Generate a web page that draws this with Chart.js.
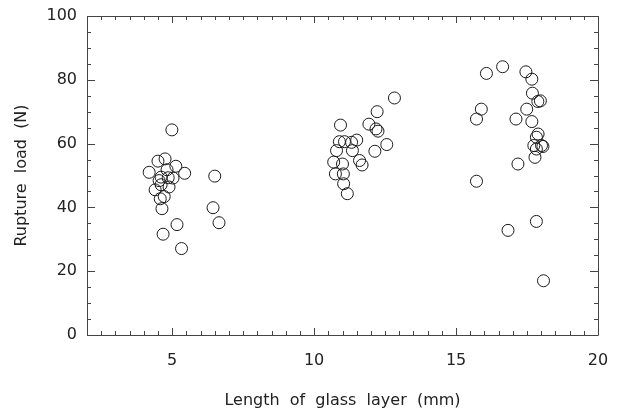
<!DOCTYPE html>
<html>
<head>
<meta charset="utf-8">
<script src="https://cdn.jsdelivr.net/npm/chart.js@4.4.1/dist/chart.umd.min.js"></script>
<style>
html, body { margin: 0; padding: 0; background: #fff; }
#wrap { width: 617px; height: 413px; }
</style>
</head>
<body>
<div id="wrap"><canvas id="chart" width="617" height="413"></canvas></div>
<script>
// glass layer ~5 mm
const shortX = [4.19, 4.50, 4.75, 4.99, 4.40, 4.54, 4.61, 4.82, 4.86, 5.03, 5.13, 5.44, 4.58, 4.72, 4.89, 4.64, 4.68, 5.17, 5.33, 6.50, 6.44, 6.65, 4.61];
const shortY = [51.0, 54.5, 55.2, 64.3, 45.5, 48.4, 49.5, 51.8, 49.3, 49.2, 52.9, 50.7, 42.7, 43.4, 46.4, 39.6, 31.6, 34.6, 27.1, 49.8, 39.9, 35.2, 47.1];

// glass layer ~11 mm
const midX = [10.93, 10.79, 10.69, 10.75, 10.89, 11.07, 11.00, 11.03, 11.04, 11.17, 11.32, 11.35, 11.50, 11.60, 11.69, 11.93, 12.18, 12.25, 12.22, 12.14, 12.56, 12.83];
const midY = [65.8, 57.8, 54.2, 50.5, 60.6, 60.6, 53.6, 50.5, 47.4, 44.3, 60.4, 57.8, 61.1, 54.7, 53.3, 66.1, 64.6, 63.9, 70.0, 57.6, 59.7, 74.3];

// glass layer ~16-18 mm
const longX = [15.72, 15.89, 15.72, 16.07, 16.64, 16.83, 17.11, 17.18, 17.46, 17.49, 17.67, 17.69, 17.67, 17.88, 17.97, 17.89, 17.83, 17.74, 17.78, 17.83, 18.01, 18.06, 17.83, 18.08];
const longY = [67.7, 70.8, 48.2, 82.0, 84.1, 32.8, 67.7, 53.6, 82.5, 70.8, 80.2, 75.8, 66.9, 73.2, 73.4, 63.0, 62.0, 59.4, 55.7, 58.3, 59.4, 59.1, 35.6, 17.0];

const xTickValues = [5, 10, 15, 20];
const yTickValues = [0, 20, 40, 60, 80, 100];

const toPoints = (xs, ys) => xs.map((x, i) => ({ x: x, y: ys[i] }));

const FONT = 'DejaVu Sans';
const INK = '#222';

const circleStyle = {
    pointStyle: 'circle',
    pointRadius: 6,
    pointBorderWidth: 1,
    pointBorderColor: '#1a1a1a',
    pointBackgroundColor: 'rgba(0,0,0,0)',
    showLine: false
};

// box round the plot with inward ticks on all four sides
const frameTicks = {
    id: 'frameTicks',
    afterDraw(chart) {
        const ctx = chart.ctx;
        const a = chart.chartArea;
        const xs = chart.scales.x;
        const ys = chart.scales.y;
        ctx.save();
        ctx.strokeStyle = '#444';
        ctx.lineWidth = 1;
        ctx.beginPath();
        ctx.rect(Math.round(a.left) + 0.5, Math.round(a.top) + 0.5,
            Math.round(a.right - a.left), Math.round(a.bottom - a.top));
        for (let v = 2; v <= 20.001; v += 0.5) {
            const px = Math.round(xs.getPixelForValue(v)) + 0.5;
            const len = Math.abs(v % 5) < 0.001 ? 7 : 4;
            ctx.moveTo(px, a.bottom); ctx.lineTo(px, a.bottom - len);
            ctx.moveTo(px, a.top); ctx.lineTo(px, a.top + len);
        }
        for (let v = 0; v <= 100; v += 5) {
            const py = Math.round(ys.getPixelForValue(v)) + 0.5;
            const len = v % 20 === 0 ? 8 : 4;
            ctx.moveTo(a.left, py); ctx.lineTo(a.left + len, py);
            ctx.moveTo(a.right, py); ctx.lineTo(a.right - len, py);
        }
        ctx.stroke();
        ctx.restore();
    }
};

new Chart(document.getElementById('chart'), {
    type: 'scatter',
    data: {
        datasets: [
            { label: '5 mm', data: toPoints(shortX, shortY), ...circleStyle },
            { label: '11 mm', data: toPoints(midX, midY), ...circleStyle },
            { label: '17 mm', data: toPoints(longX, longY), ...circleStyle }
        ]
    },
    options: {
        responsive: false,
        devicePixelRatio: 1,
        animation: false,
        layout: { padding: { top: 16, right: 19, left: 0, bottom: 0 } },
        plugins: {
            legend: { display: false },
            tooltip: { enabled: false }
        },
        scales: {
            x: {
                type: 'linear',
                min: 2,
                max: 20,
                afterBuildTicks: s => { s.ticks = xTickValues.map(v => ({ value: v })); },
                afterFit: s => { s.height = 78; s.paddingLeft = 0; s.paddingRight = 0; },
                grid: { display: false, drawTicks: false },
                border: { display: false },
                ticks: {
                    padding: 16,
                    color: INK,
                    font: { family: FONT, size: 16 },
                    maxRotation: 0
                },
                title: {
                    display: true,
                    text: 'Length  of  glass  layer  (mm)',
                    color: INK,
                    font: { family: FONT, size: 16 },
                    padding: { top: 10, bottom: 3 }
                }
            },
            y: {
                type: 'linear',
                min: 0,
                max: 100,
                afterBuildTicks: s => { s.ticks = yTickValues.map(v => ({ value: v })); },
                afterFit: s => { s.width = 87; s.paddingTop = 0; s.paddingBottom = 0; },
                grid: { display: false, drawTicks: false },
                border: { display: false },
                ticks: {
                    padding: 10,
                    color: INK,
                    font: { family: FONT, size: 16 }
                },
                title: {
                    display: true,
                    text: 'Rupture  load  (N)',
                    color: INK,
                    font: { family: FONT, size: 16 },
                    padding: { top: 12, bottom: 0 }
                }
            }
        }
    },
    plugins: [frameTicks]
});
</script>
</body>
</html>
